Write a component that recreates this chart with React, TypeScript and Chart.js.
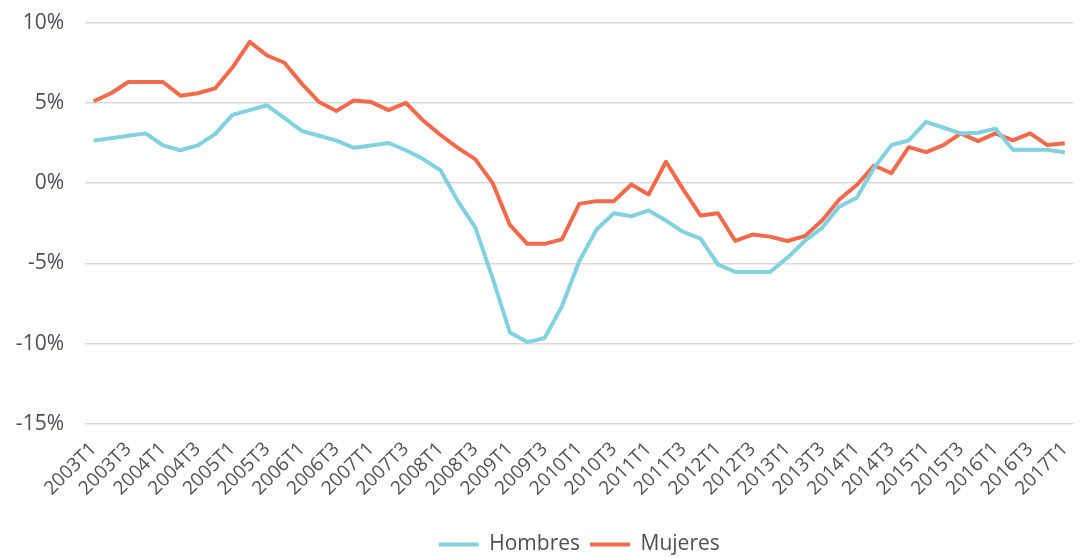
import React, { useEffect, useRef } from "react";
import { Chart, registerables } from "chart.js";

Chart.register(...registerables);

const categories: string[] = [
  "2003T1", "2003T2", "2003T3", "2003T4",
  "2004T1", "2004T2", "2004T3", "2004T4",
  "2005T1", "2005T2", "2005T3", "2005T4",
  "2006T1", "2006T2", "2006T3", "2006T4",
  "2007T1", "2007T2", "2007T3", "2007T4",
  "2008T1", "2008T2", "2008T3", "2008T4",
  "2009T1", "2009T2", "2009T3", "2009T4",
  "2010T1", "2010T2", "2010T3", "2010T4",
  "2011T1", "2011T2", "2011T3", "2011T4",
  "2012T1", "2012T2", "2012T3", "2012T4",
  "2013T1", "2013T2", "2013T3", "2013T4",
  "2014T1", "2014T2", "2014T3", "2014T4",
  "2015T1", "2015T2", "2015T3", "2015T4",
  "2016T1", "2016T2", "2016T3", "2016T4",
  "2017T1",
];

const hombres: number[] = [
  2.65, 2.8, 2.95, 3.1, 2.35, 2.05, 2.35, 3.05,
  4.25, 4.55, 4.85, 4.05, 3.25, 2.95, 2.65, 2.2,
  2.35, 2.5, 2.05, 1.5, 0.8, -1.12, -2.75, -5.9,
  -9.3, -9.9, -9.65, -7.67, -4.86, -2.89, -1.87, -2.06,
  -1.7, -2.33, -3.04, -3.45, -5.07, -5.53, -5.53, -5.53,
  -4.65, -3.6, -2.78, -1.46, -0.91, 0.95, 2.37, 2.66,
  3.82, 3.45, 3.1, 3.14, 3.4, 2.08, 2.08, 2.08,
  1.91,
];

const mujeres: number[] = [
  5.1, 5.6, 6.3, 6.3, 6.3, 5.45, 5.6, 5.9,
  7.2, 8.8, 7.95, 7.5, 6.2, 5.05, 4.5, 5.15,
  5.05, 4.55, 5.0, 3.9, 3.0, 2.2, 1.5, 0.02,
  -2.6, -3.78, -3.78, -3.5, -1.29, -1.12, -1.12, -0.08,
  -0.7, 1.33, -0.4, -2.02, -1.87, -3.6, -3.2, -3.33,
  -3.6, -3.3, -2.33, -1.02, -0.12, 1.1, 0.62, 2.24,
  1.93, 2.37, 3.1, 2.62, 3.1, 2.66, 3.1, 2.37,
  2.49,
];

const yTicks: number[] = [-15, -10, -5, 0, 5, 10];

const BLUE = "#81d1de";
const RED = "#f26a4c";
const TEXT = "#4a4e55";
const FONT = "'Open Sans', 'Noto Sans', sans-serif";

export default function App() {
  const ref = useRef<HTMLCanvasElement | null>(null);

  useEffect(() => {
    document.body.style.margin = "0";
    const canvas = ref.current;
    if (!canvas) return;
    const chart = new Chart(canvas, {
      type: "line",
      data: {
        labels: categories,
        datasets: [
          {
            label: "Hombres",
            data: hombres,
            borderColor: BLUE,
            backgroundColor: BLUE,
            borderWidth: 4,
            pointRadius: 0,
            tension: 0,
            borderJoinStyle: "round",
          },
          {
            label: "Mujeres",
            data: mujeres,
            borderColor: RED,
            backgroundColor: RED,
            borderWidth: 4,
            pointRadius: 0,
            tension: 0,
            borderJoinStyle: "round",
          },
        ],
      },
      options: {
        responsive: false,
        animation: false,
        maintainAspectRatio: false,
        layout: { padding: { top: 11, right: 6, left: 0, bottom: 0 } },
        plugins: {
          tooltip: { enabled: false },
          legend: {
            position: "bottom",
            fullSize: false,
            labels: {
              boxWidth: 40,
              boxHeight: 4,
              padding: 10,
              color: TEXT,
              font: { family: FONT, size: 21 },
              generateLabels: (c: any) => {
                const items = Chart.defaults.plugins.legend.labels.generateLabels(c);
                items.forEach((it: any) => {
                  it.lineWidth = 0;
                });
                return items;
              },
            },
          },
        },
        scales: {
          x: {
            offset: true,
            grid: { display: false, drawTicks: false },
            border: { display: false },
            afterFit: (s: any) => {
              s.height = 100;
            },
            ticks: {
              autoSkip: false,
              maxRotation: 45,
              minRotation: 45,
              padding: 14,
              color: TEXT,
              font: { family: FONT, size: 19 },
              callback: function (this: any, _v: any, i: number) {
                return i % 2 === 0 ? categories[i] : "";
              },
            },
          },
          y: {
            min: yTicks[0],
            max: yTicks[yTicks.length - 1],
            afterBuildTicks: (s: any) => {
              s.ticks = yTicks.map((v) => ({ value: v }));
            },
            afterFit: (s: any) => {
              s.width = 85;
            },
            grid: { color: "#d9d9d9", lineWidth: 1.5, drawTicks: false },
            border: { display: false },
            ticks: {
              padding: 21,
              color: TEXT,
              font: { family: FONT, size: 21 },
              callback: (v: any) => `${v}%`,
            },
          },
        },
      },
    });
    return () => chart.destroy();
  }, []);

  return (
    <div style={{ width: 1087, height: 558, overflow: "hidden" }}>
      <canvas
        ref={ref}
        width={1095}
        height={576}
        style={{ display: "block", marginTop: -11 }}
      />
    </div>
  );
}
